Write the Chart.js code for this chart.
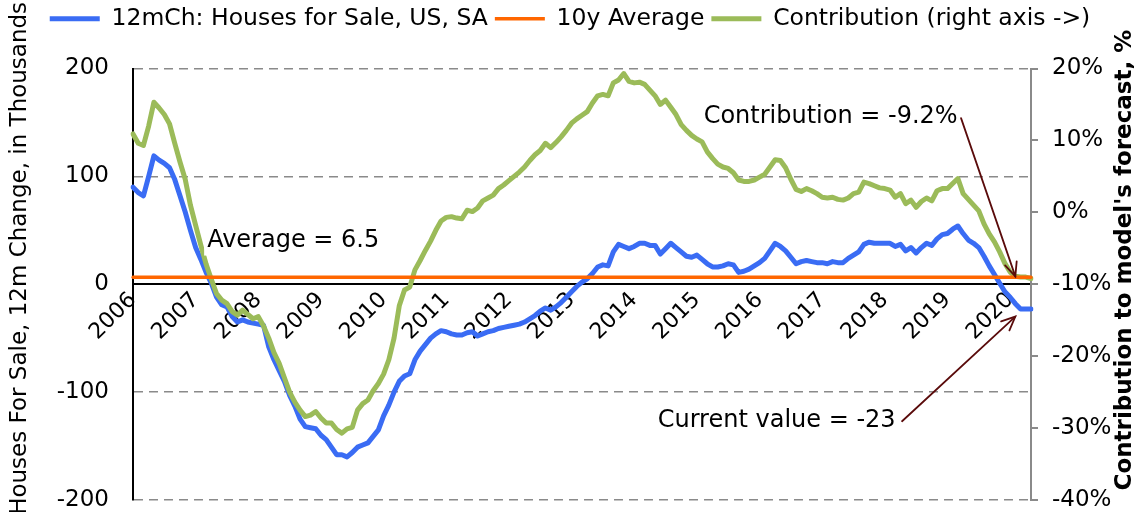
<!DOCTYPE html>
<html><head><meta charset="utf-8">
<script src="https://cdn.jsdelivr.net/npm/chart.js@4.4.0/dist/chart.umd.min.js"></script>
<style>html,body{margin:0;padding:0;background:#fff}</style>
</head><body>
<canvas id="c" width="1140" height="512"></canvas>
<script>
// ---- data ----
const years = ['2006','2007','2008','2009','2010','2011','2012','2013','2014','2015','2016','2017','2018','2019','2020'];
const leftTicks = [-200, -100, 0, 100, 200];
const rightTicks = [-40, -30, -20, -10, 0, 10, 20];

// 12m change in houses for sale, thousands (monthly, Jan 2006 - May 2020)
const housesChange = [
 90,85,82,100,119,115,112,108,97,82,67,50,
 34,23,11,1,-12,-19,-21,-30,-35,-33,-35,-36,
 -37,-38,-58,-70,-80,-90,-103,-113,-125,-132,-133,-134,
 -140,-144,-151,-158,-158,-160,-156,-151,-149,-147,-141,-135,
 -122,-112,-100,-90,-85,-83,-70,-62,-56,-50,-46,-43,
 -44,-46,-47,-47,-45,-44,-48,-46,-44,-43,-41,-40,
 -39,-38,-37,-35,-32,-29,-25,-22,-24,-21,-17,-12,
 -7,-2,2,5,10,16,18,17,30,37,35,33,
 35,38,38,36,36,28,33,38,34,30,26,25,
 27,23,19,16,16,17,19,18,11,12,14,17,
 20,24,31,38,35,31,25,19,21,22,21,20,
 20,19,21,20,20,24,27,30,37,39,38,38,
 38,38,35,37,31,34,29,34,38,36,42,46,
 47,51,54,47,41,38,34,26,17,9,1,-7,
 -12,-18,-23,-23,-23
];
// 10-year average (thousands)
const avgValue = 6.5;
// contribution to model's forecast, %
const contribution = [
 10.9,9.6,9.3,12,15.3,14.5,13.6,12.3,9.6,7.0,4.6,1.0,
 -1.8,-4.6,-7.2,-9.3,-11.3,-12.2,-12.7,-13.8,-14.3,-13.6,-14.2,-14.8,
 -14.5,-15.8,-17.5,-19.5,-21,-23,-25,-26.4,-27.5,-28.4,-28.2,-27.7,
 -28.6,-29.3,-29.3,-30.2,-30.7,-30.1,-29.9,-27.5,-26.6,-26.1,-24.8,-23.8,
 -22.5,-20.5,-17.5,-13,-10.8,-10.4,-8,-6.7,-5.3,-4,-2.5,-1.2,
 -0.7,-0.6,-0.8,-0.9,0.3,0.1,0.6,1.6,2.0,2.4,3.3,3.8,
 4.4,5.0,5.6,6.3,7.2,8.0,8.6,9.6,9.0,9.7,10.5,11.4,
 12.4,13.0,13.5,14.0,15.2,16.2,16.4,16.2,18,18.4,19.3,18.2,
 18.0,18.1,17.8,17.0,16.2,15.0,15.6,14.6,13.6,12.2,11.4,10.7,
 10.2,9.8,8.4,7.5,6.7,6.3,6.1,5.5,4.5,4.3,4.3,4.5,
 4.9,5.3,6.3,7.3,7.2,6.2,4.6,3.2,2.9,3.3,3.0,2.6,
 2.1,2.0,2.1,1.8,1.7,2.0,2.6,2.8,4.2,4.0,3.7,3.4,
 3.3,3.1,2.1,2.6,1.2,1.7,0.7,1.5,2.0,1.6,3.0,3.3,
 3.3,4.0,4.7,2.6,1.8,1.0,0.2,-1.6,-3.0,-4.1,-5.5,-7.1,
 -8.3,-8.9,-9.0,-9.0,-9.2
];
const seriesNames = ['12mCh: Houses for Sale, US, SA', '10y Average', 'Contribution (right axis ->)'];
const axisTitles = ['Houses For Sale, 12m Change, in Thousands', "Contribution to model's forecast, %"];
const notes = {average: 'Average = 6.5', contrib: 'Contribution = -9.2%', current: 'Current value = -23'};

// categories: months
const categories = [];
years.forEach(y => { for (let m = 1; m <= 12; m++) categories.push(y + '-' + String(m).padStart(2, '0')); });
categories.length = housesChange.length;
const avgSeries = categories.map(() => avgValue);

// ---- chart ----
const FONT = "'DejaVu Sans', 'Liberation Sans', sans-serif";
Chart.defaults.font.family = FONT;
Chart.defaults.color = '#000';

const BLUE = '#3a6cf4', ORANGE = '#ff6600', GREEN = '#9bbb59', ARROW = '#5a0b0b';

const overlay = {
  id: 'overlay',
  afterDatasetsDraw(chart) {
    const {ctx} = chart;
    const sx = chart.scales.x, sy = chart.scales.y, sy2 = chart.scales.y2;
    const n = housesChange.length - 1;
    ctx.save();
    ctx.font = '24px ' + FONT;
    ctx.textBaseline = 'middle';
    ctx.textAlign = 'left';
    const label = (txt, px, py) => {
      const w = ctx.measureText(txt).width;
      ctx.fillStyle = '#fff';
      ctx.fillRect(px - 3, py - 15, w + 6, 30);
      ctx.fillStyle = '#000';
      ctx.fillText(txt, px, py);
    };
    const arrow = (x1, y1, x2, y2) => {
      ctx.strokeStyle = ARROW; ctx.lineWidth = 1.8; ctx.lineCap = 'round';
      ctx.beginPath(); ctx.moveTo(x1, y1); ctx.lineTo(x2, y2); ctx.stroke();
      const a = Math.atan2(y2 - y1, x2 - x1), L = 15, s = 0.42;
      ctx.beginPath();
      ctx.moveTo(x2 - L * Math.cos(a - s), y2 - L * Math.sin(a - s));
      ctx.lineTo(x2, y2);
      ctx.lineTo(x2 - L * Math.cos(a + s), y2 - L * Math.sin(a + s));
      ctx.stroke();
    };
    // average label
    label(notes.average, sx.getPixelForValue(14.2), sy.getPixelForValue(40.5));
    // contribution label and arrow
    label(notes.contrib, sx.getPixelForValue(109.3), sy2.getPixelForValue(13.3));
    arrow(sx.getPixelForValue(158.6), sy2.getPixelForValue(13.1), sx.getPixelForValue(n - 3), sy2.getPixelForValue(contribution[n - 3]));
    // current value label and arrow
    label(notes.current, sx.getPixelForValue(100.5), sy.getPixelForValue(-127));
    arrow(sx.getPixelForValue(147.3), sy.getPixelForValue(-127), sx.getPixelForValue(n - 3), sy.getPixelForValue(-30));
    ctx.restore();
  },
  afterDraw(chart) {
    const {ctx, chartArea: ca} = chart;
    ctx.save();
    ctx.fillStyle = '#000';
    ctx.textAlign = 'center';
    ctx.textBaseline = 'middle';
    ctx.font = '23px ' + FONT;
    ctx.translate(20, ca.top + ca.height * 0.44);
    ctx.rotate(-Math.PI / 2);
    ctx.fillText(axisTitles[0], 0, 0);
    ctx.restore();
    ctx.save();
    ctx.fillStyle = '#000';
    ctx.textAlign = 'center';
    ctx.textBaseline = 'middle';
    ctx.font = 'bold 23px ' + FONT;
    ctx.translate(1125, ca.top + ca.height * 0.444);
    ctx.rotate(-Math.PI / 2);
    ctx.fillText(axisTitles[1], 0, 0);
    ctx.restore();
  }
};

const legendSpacer = {
  id: 'legendSpacer',
  beforeInit(chart) {
    const orig = chart.legend.fit;
    chart.legend.fit = function () { orig.bind(chart.legend)(); this.height += 28; };
  }
};

const trimPad = s => { s.paddingTop = 12; s.paddingBottom = 12; };

new Chart(document.getElementById('c'), {
  type: 'line',
  data: {
    labels: categories,
    datasets: [
      {label: seriesNames[0], data: housesChange, yAxisID: 'y', borderColor: BLUE, backgroundColor: BLUE, borderWidth: 5, order: 3},
      {label: seriesNames[1], data: avgSeries, yAxisID: 'y', borderColor: ORANGE, backgroundColor: ORANGE, borderWidth: 3.5, order: 1},
      {label: seriesNames[2], data: contribution, yAxisID: 'y2', borderColor: GREEN, backgroundColor: GREEN, borderWidth: 5, order: 2}
    ]
  },
  options: {
    responsive: false,
    animation: false,
    devicePixelRatio: 1,
    layout: {padding: {top: 0, left: 0, right: 0, bottom: 0}},
    elements: {
      point: {radius: 0, hoverRadius: 0},
      line: {tension: 0, borderJoinStyle: 'round', borderCapStyle: 'round', fill: false}
    },
    plugins: {
      tooltip: {enabled: false},
      legend: {
        position: 'top',
        labels: {
          font: {size: 23.5},
          color: '#000',
          usePointStyle: true,
          pointStyle: 'line',
          pointStyleWidth: 50,
          padding: 7,
          sort: (a, b) => a.datasetIndex - b.datasetIndex
        }
      }
    },
    scales: {
      x: {
        type: 'category',
        position: {y: 0},
        offset: false,
        grid: {display: false, drawTicks: false},
        border: {display: true, color: '#000', width: 2},
        ticks: {
          autoSkip: false, maxRotation: 45, minRotation: 45, padding: 3,
          font: {size: 22}, color: '#000',
          callback: (v, i) => (i % 12 === 0 ? years[i / 12] : '')
        }
      },
      y: {
        position: 'left',
        min: leftTicks[0], max: leftTicks[leftTicks.length - 1],
        afterBuildTicks: s => { s.ticks = leftTicks.map(v => ({value: v})); },
        afterFit: s => { s.width = 133; trimPad(s); },
        grid: {color: '#8a8a8a', lineWidth: 1.6, drawTicks: false},
        border: {display: true, color: '#000', width: 2, dash: [9, 6]},
        ticks: {font: {size: 23, lineHeight: 1.0}, color: '#000', padding: 24}
      },
      y2: {
        position: 'right',
        min: rightTicks[0], max: rightTicks[rightTicks.length - 1],
        afterBuildTicks: s => { s.ticks = rightTicks.map(v => ({value: v})); },
        afterFit: s => { s.width = 109; trimPad(s); },
        grid: {drawOnChartArea: false, drawTicks: true, tickLength: 7, color: '#8a8a8a', lineWidth: 2},
        border: {display: true, color: '#8a8a8a', width: 2},
        ticks: {font: {size: 23, lineHeight: 1.0}, color: '#000', padding: 14, callback: v => v + '%'}
      }
    }
  },
  plugins: [overlay, legendSpacer]
});
</script>
</body></html>
